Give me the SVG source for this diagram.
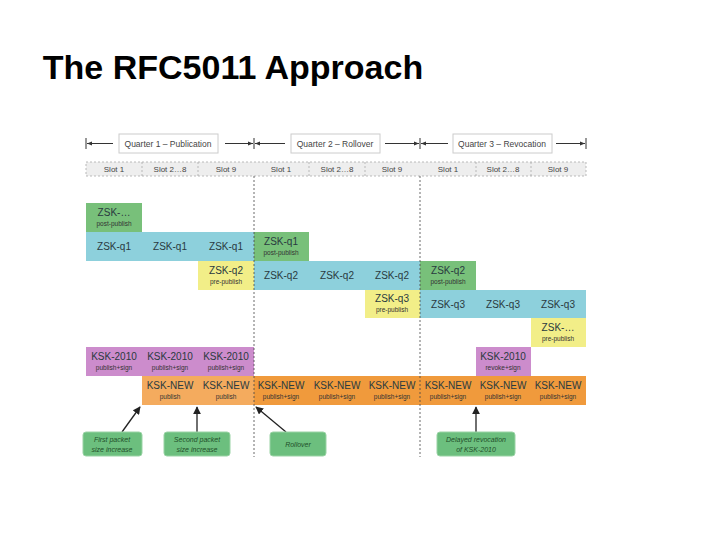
<svg xmlns="http://www.w3.org/2000/svg" width="720" height="540" viewBox="0 0 720 540">
<defs>
<style>
text{font-family:"Liberation Sans",Arial,sans-serif;text-anchor:middle}
.t{font-size:10px;fill:#2a3a40}
.s{font-size:6.5px;fill:#333}
.q{font-size:8.5px;fill:#444}
.sl{font-size:8px;fill:#444}
.c{font-size:7px;fill:#1f4f2a;font-style:italic}
.bl{fill:#8dd0dc}.gr{fill:#78c07a}.ye{fill:#f2ee88}.pu{fill:#cc8ccc}.or{fill:#f09a3c}.lo{fill:#f4ab5e}
.cb{fill:#6cbf7e;stroke:#9ad3a5;stroke-width:1}
.ar{stroke:#222;stroke-width:1.3;fill:none}
</style>
<marker id="ah" viewBox="0 0 10 10" refX="9" refY="5" markerWidth="6" markerHeight="6" orient="auto"><path d="M0,0L10,5L0,10z" fill="#222"/></marker>
<marker id="hd" viewBox="0 0 10 10" refX="10" refY="5" markerWidth="5" markerHeight="5" orient="auto"><path d="M0,1L10,5L0,9z" fill="#333"/></marker>
</defs>
<rect width="720" height="540" fill="#fff"/>
<text x="233" y="79" style="font-size:34px;font-weight:bold;fill:#000">The RFC5011 Approach</text>

<g id="quarters" stroke="#333" stroke-width="1">
<line x1="86" y1="138" x2="86" y2="149"/><line x1="254" y1="138" x2="254" y2="149"/><line x1="420" y1="138" x2="420" y2="149"/><line x1="586" y1="138" x2="586" y2="149"/>
<line x1="113" y1="143.5" x2="87" y2="143.5" marker-end="url(#hd)"/><line x1="225" y1="143.5" x2="253" y2="143.5" marker-end="url(#hd)"/>
<line x1="285" y1="143.5" x2="255" y2="143.5" marker-end="url(#hd)"/><line x1="385" y1="143.5" x2="419" y2="143.5" marker-end="url(#hd)"/>
<line x1="448" y1="143.5" x2="421" y2="143.5" marker-end="url(#hd)"/><line x1="556" y1="143.5" x2="585" y2="143.5" marker-end="url(#hd)"/>
<rect x="119" y="134" width="99" height="19" fill="#fff" stroke="#ccc"/>
<rect x="291" y="134" width="89" height="19" fill="#fff" stroke="#ccc"/>
<rect x="453" y="134" width="99" height="19" fill="#fff" stroke="#ccc"/>
</g>
<g id="qlabels">
<text class="q" x="168" y="147">Quarter 1 – Publication</text>
<text class="q" x="335" y="147">Quarter 2 – Rollover</text>
<text class="q" x="502" y="147">Quarter 3 – Revocation</text>
</g>

<g id="slots">
<rect x="86" y="162" width="500" height="14" fill="#eee" stroke="#aaa" stroke-dasharray="2,2" stroke-width="0.8"/>
<g stroke="#aaa" stroke-dasharray="2,2" stroke-width="0.8">
<line x1="142" y1="162" x2="142" y2="176"/><line x1="198" y1="162" x2="198" y2="176"/><line x1="309" y1="162" x2="309" y2="176"/><line x1="365" y1="162" x2="365" y2="176"/><line x1="476" y1="162" x2="476" y2="176"/><line x1="531" y1="162" x2="531" y2="176"/>
</g>
<text class="sl" x="114" y="172">Slot 1</text><text class="sl" x="170" y="172">Slot 2…8</text><text class="sl" x="226" y="172">Slot 9</text>
<text class="sl" x="281" y="172">Slot 1</text><text class="sl" x="337" y="172">Slot 2…8</text><text class="sl" x="392" y="172">Slot 9</text>
<text class="sl" x="448" y="172">Slot 1</text><text class="sl" x="503" y="172">Slot 2…8</text><text class="sl" x="558" y="172">Slot 9</text>
</g>

<g id="zsk-row0"><rect class="gr" x="86" y="203" width="56" height="29"/><text class="t" x="114" y="216">ZSK-…</text><text class="s" x="114" y="226">post-publish</text></g>
<g id="zsk-q1"><rect class="bl" x="86" y="232" width="168" height="29"/>
<text class="t" x="114" y="250">ZSK-q1</text><text class="t" x="170" y="250">ZSK-q1</text><text class="t" x="226" y="250">ZSK-q1</text>
<rect class="gr" x="254" y="232" width="55" height="29"/><text class="t" x="281" y="245">ZSK-q1</text><text class="s" x="281" y="255">post-publish</text></g>
<g id="zsk-q2"><rect class="ye" x="198" y="261" width="56" height="29"/><text class="t" x="226" y="274">ZSK-q2</text><text class="s" x="226" y="284">pre-publish</text>
<rect class="bl" x="254" y="261" width="166" height="29"/>
<text class="t" x="281" y="279">ZSK-q2</text><text class="t" x="337" y="279">ZSK-q2</text><text class="t" x="392" y="279">ZSK-q2</text>
<rect class="gr" x="420" y="261" width="56" height="29"/><text class="t" x="448" y="274">ZSK-q2</text><text class="s" x="448" y="284">post-publish</text></g>
<g id="zsk-q3"><rect class="ye" x="365" y="290" width="55" height="28"/><text class="t" x="392" y="302">ZSK-q3</text><text class="s" x="392" y="312">pre-publish</text>
<rect class="bl" x="420" y="290" width="166" height="28"/>
<text class="t" x="448" y="308">ZSK-q3</text><text class="t" x="503" y="308">ZSK-q3</text><text class="t" x="558" y="308">ZSK-q3</text></g>
<g id="zsk-next"><rect class="ye" x="531" y="318" width="55" height="29"/><text class="t" x="558" y="331">ZSK-…</text><text class="s" x="558" y="341">pre-publish</text></g>

<g id="ksk-2010"><rect class="pu" x="86" y="347" width="168" height="29"/>
<text class="t" x="114" y="360">KSK-2010</text><text class="s" x="114" y="370">publish+sign</text>
<text class="t" x="170" y="360">KSK-2010</text><text class="s" x="170" y="370">publish+sign</text>
<text class="t" x="226" y="360">KSK-2010</text><text class="s" x="226" y="370">publish+sign</text>
<rect class="pu" x="476" y="347" width="55" height="29"/><text class="t" x="503" y="360">KSK-2010</text><text class="s" x="503" y="370">revoke+sign</text></g>
<g id="ksk-new"><rect class="lo" x="142" y="376" width="112" height="29"/><rect class="or" x="254" y="376" width="332" height="29"/>
<text class="t" x="170" y="389">KSK-NEW</text><text class="s" x="170" y="399">publish</text>
<text class="t" x="226" y="389">KSK-NEW</text><text class="s" x="226" y="399">publish</text>
<text class="t" x="281" y="389">KSK-NEW</text><text class="s" x="281" y="399">publish+sign</text>
<text class="t" x="337" y="389">KSK-NEW</text><text class="s" x="337" y="399">publish+sign</text>
<text class="t" x="392" y="389">KSK-NEW</text><text class="s" x="392" y="399">publish+sign</text>
<text class="t" x="448" y="389">KSK-NEW</text><text class="s" x="448" y="399">publish+sign</text>
<text class="t" x="503" y="389">KSK-NEW</text><text class="s" x="503" y="399">publish+sign</text>
<text class="t" x="558" y="389">KSK-NEW</text><text class="s" x="558" y="399">publish+sign</text></g>

<g id="dividers" stroke="#444" stroke-width="0.8" stroke-dasharray="2,2">
<line x1="254" y1="176" x2="254" y2="457"/><line x1="420" y1="176" x2="420" y2="457"/>
</g>

<g id="connectors">
<line class="ar" x1="122" y1="432" x2="140" y2="407" marker-end="url(#ah)"/>
<line class="ar" x1="197" y1="432" x2="197" y2="407" marker-end="url(#ah)"/>
<line class="ar" x1="286" y1="432" x2="256" y2="407" marker-end="url(#ah)"/>
<line class="ar" x1="476" y1="432" x2="476" y2="407" marker-end="url(#ah)"/>
</g>
<g id="c1"><rect class="cb" x="83" y="432" width="59" height="24" rx="3"/><text class="c" x="112" y="442">First packet</text><text class="c" x="112" y="452">size increase</text></g>
<g id="c2"><rect class="cb" x="164" y="432" width="66" height="24" rx="3"/><text class="c" x="197" y="442">Second packet</text><text class="c" x="197" y="452">size increase</text></g>
<g id="c3"><rect class="cb" x="270" y="432" width="56" height="24" rx="3"/><text class="c" x="298" y="447">Rollover</text></g>
<g id="c4"><rect class="cb" x="437" y="432" width="78" height="24" rx="3"/><text class="c" x="476" y="442">Delayed revocation</text><text class="c" x="476" y="452">of KSK-2010</text></g>
</svg>
